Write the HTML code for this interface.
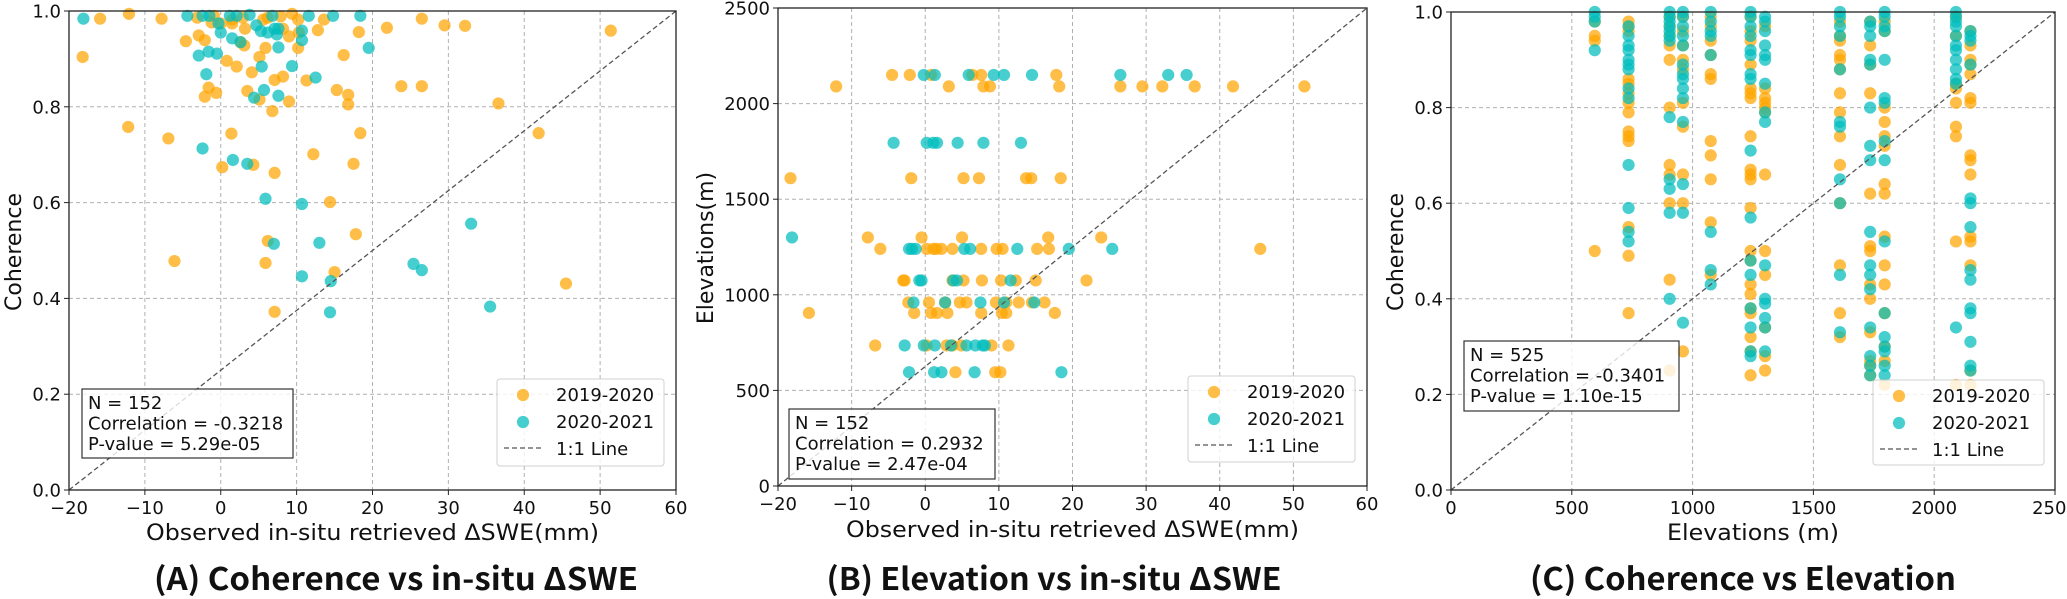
<!DOCTYPE html>
<html><head><meta charset="utf-8"><style>
html,body{margin:0;padding:0;background:#fff;width:2067px;height:599px;overflow:hidden}
svg text{font-family:"DejaVu Sans","Liberation Sans",sans-serif;fill:#111}
</style></head><body>
<svg id="fig" width="2067" height="599" xmlns="http://www.w3.org/2000/svg"></svg>
<script>
// Panel A: coherence vs dSWE
const aOrangeX=[-18.2,-15.9,-12.1,-7.8,-12.2,-6.9,-6.1,-4.6,-2.9,-2.1,-1.6,-2.1,-0.6,0.2,0.8,2.1,1.4,3.5,4.1,5.1,5.1,4.3,3.1,3.2,5.9,6.8,7.1,8.2,9.0,7.1,5.9,6.2,7.1,8.2,9.0,10.2,10.3,12.8,13.6,12.2,11.3,14.4,15.0,15.3,16.2,16.8,16.8,17.5,17.8,18.2,18.4,21.9,23.8,26.5,26.5,29.5,32.2,36.6,41.9,45.5,51.4,-3.1,-0.9,1.5,2.9,5.6,7.9,9.4,10.2,2.6,0,1.5,-1.2,6.2];
const aOrangeY=[0.904,0.984,0.994,0.984,0.758,0.734,0.478,0.937,0.949,0.939,0.840,0.821,0.829,0.674,0.896,0.884,0.744,0.833,0.872,0.904,0.815,0.679,0.928,0.963,0.923,0.791,0.856,0.863,0.811,0.662,0.474,0.520,0.372,0.963,0.947,0.923,0.955,0.960,0.982,0.701,0.855,0.601,0.455,0.835,0.908,0.825,0.805,0.681,0.534,0.956,0.745,0.965,0.843,0.984,0.843,0.970,0.969,0.807,0.745,0.431,0.959,0.986,0.99,0.982,0.986,0.982,0.989,0.994,0.982,0.935,0.974,0.974,0.976,0.986];
const aTealX=[-18.1,-4.4,-2.9,-1.6,-0.5,-1.9,-2.4,-2.4,-1.5,-0.3,0,1.2,2.1,3.8,1.5,2.6,4.7,5.3,6.2,7.1,7.4,6.8,7.6,4.4,5.7,5.4,7.6,7.6,9.4,10.7,10.7,11.6,12.5,14.8,18.4,19.5,1.6,3.5,5.9,7.0,10.7,10.7,13.0,14.5,14.4,25.4,26.5,33.0,35.5];
const aTealY=[0.984,0.99,0.907,0.915,0.911,0.868,0.713,0.99,0.99,0.974,0.955,0.99,0.99,0.992,0.943,0.935,0.97,0.958,0.955,0.963,0.951,0.99,0.963,0.819,0.835,0.884,0.924,0.823,0.885,0.959,0.939,0.99,0.861,0.99,0.99,0.923,0.689,0.681,0.608,0.514,0.597,0.446,0.516,0.436,0.371,0.472,0.459,0.556,0.383];
// Panel B: elevation vs dSWE
const bOrangeX=[-4.5,-2.1,0.8,6.4,7.6,17.8,-12.1,3.2,7.9,8.8,18.2,26.5,29.5,32.2,36.6,41.8,51.5,-18.3,-1.9,5.2,7.3,13.7,14.4,18.4,-7.8,-0.5,5.0,16.7,23.9,-6.1,0.2,1.1,1.5,2.2,3.7,7.6,9.7,10.5,15.2,16.8,45.5,-3.0,-2.8,3.7,5.2,7.7,10.3,12.3,15.0,21.9,-2.3,0.5,2.7,4.7,5.6,9.6,11.0,12.7,14.5,16.2,-15.8,-1.5,0.8,1.6,3.0,7.6,10.4,11.0,17.6,-6.8,0.2,2.9,3.7,4.9,9.0,11.3,4.1,9.5,10.2];
const bOrangeY=[2150,2150,2150,2150,2150,2150,2090,2090,2090,2090,2090,2090,2090,2090,2090,2090,2090,1610,1610,1610,1610,1610,1610,1610,1300,1300,1300,1300,1300,1240,1240,1240,1240,1240,1240,1240,1240,1240,1240,1240,1240,1075,1075,1075,1075,1075,1075,1075,1075,1075,960,960,960,960,960,960,960,960,960,960,905,905,905,905,905,905,905,905,905,735,735,735,735,735,735,735,595,595,595];
const bTealX=[-0.2,1.3,5.9,9.3,10.7,14.5,26.5,33.0,35.5,-4.3,0.2,1.1,1.6,4.4,7.9,13.0,-18.1,-2.2,-1.8,-1.3,5.3,6.1,12.5,19.5,25.4,-0.8,-0.5,3.8,4.3,11.6,-1.6,2.7,7.5,10.7,14.8,-2.8,-0.2,1.3,3.5,5.6,6.8,7.8,8.1,-2.2,1.2,2.2,6.7,18.5];
const bTealY=[2150,2150,2150,2150,2150,2150,2150,2150,2150,1795,1795,1795,1795,1795,1795,1795,1300,1240,1240,1240,1240,1240,1240,1240,1240,1075,1075,1075,1075,1075,960,960,960,960,960,735,735,735,735,735,735,735,735,595,595,595,595,595];
// Panel C: coherence vs elevation (per station column)
const cElev=[595,735,905,960,1075,1240,1300,1610,1735,1795,2090,2150];
const cOrange=[[0.98,0.95,0.94,0.50],[0.98,0.97,0.96,0.86,0.85,0.83,0.81,0.79,0.75,0.74,0.73,0.55,0.49,0.37],[0.99,0.97,0.95,0.93,0.90,0.80,0.68,0.66,0.60,0.44,0.25],[0.99,0.96,0.93,0.90,0.88,0.81,0.76,0.66,0.60,0.29],[0.99,0.97,0.94,0.91,0.87,0.86,0.73,0.70,0.65,0.56,0.45],[0.99,0.96,0.94,0.89,0.84,0.83,0.82,0.74,0.67,0.66,0.65,0.59,0.50,0.48,0.43,0.41,0.38,0.37,0.32,0.29,0.24],[0.97,0.84,0.82,0.81,0.80,0.79,0.66,0.50,0.45,0.34,0.28,0.25],[0.98,0.95,0.94,0.91,0.90,0.88,0.83,0.79,0.74,0.68,0.60,0.47,0.37,0.32],[0.98,0.93,0.89,0.83,0.62,0.51,0.50,0.43,0.40,0.33,0.27,0.26,0.24],[0.98,0.96,0.80,0.77,0.74,0.72,0.64,0.62,0.53,0.47,0.43,0.37,0.30,0.27,0.22],[0.99,0.95,0.85,0.84,0.81,0.76,0.74,0.52,0.22],[0.96,0.93,0.90,0.89,0.87,0.82,0.81,0.70,0.69,0.66,0.53,0.52,0.47,0.25,0.22]];
const cTeal=[[1.0,0.99,0.98,0.92],[0.97,0.95,0.93,0.92,0.90,0.89,0.88,0.84,0.82,0.68,0.59,0.54,0.52],[1.0,0.99,0.98,0.97,0.96,0.95,0.94,0.78,0.65,0.63,0.58,0.40],[1.0,0.99,0.97,0.95,0.93,0.89,0.87,0.86,0.84,0.82,0.77,0.64,0.58,0.35],[1.0,0.98,0.96,0.95,0.91,0.54,0.46,0.43],[1.0,0.99,0.97,0.95,0.92,0.91,0.87,0.86,0.71,0.57,0.48,0.45,0.38,0.34,0.29,0.28],[0.99,0.98,0.96,0.93,0.91,0.90,0.85,0.79,0.77,0.47,0.40,0.39,0.36,0.34,0.29],[1.0,0.99,0.97,0.95,0.88,0.77,0.76,0.65,0.60,0.45,0.33],[0.98,0.97,0.95,0.90,0.89,0.80,0.72,0.69,0.54,0.47,0.45,0.42,0.34,0.28,0.26,0.24],[1.0,0.99,0.97,0.96,0.90,0.82,0.81,0.73,0.69,0.52,0.37,0.32,0.30,0.29,0.26,0.24],[1.0,0.99,0.98,0.97,0.95,0.93,0.92,0.90,0.88,0.86,0.85,0.34],[0.96,0.95,0.94,0.89,0.61,0.60,0.55,0.46,0.44,0.38,0.37,0.31,0.26,0.25]];
const sweTicks=[-20,-10,0,10,20,30,40,50,60];
const cohTicks=[0,0.2,0.4,0.6,0.8,1.0];
const cohTickLabels=["0.0","0.2","0.4","0.6","0.8","1.0"];
const elevTicks=[0,500,1000,1500,2000,2500];
const legendLabels=["2019-2020","2020-2021","1:1 Line"];
const statsA=["N = 152","Correlation = -0.3218","P-value = 5.29e-05"];
const statsB=["N = 152","Correlation = 0.2932","P-value = 2.47e-04"];
const statsC=["N = 525","Correlation = -0.3401","P-value = 1.10e-15"];

const NS="http://www.w3.org/2000/svg";
const svg=document.getElementById('fig');
function mk(tag,attrs,parent,txt){const e=document.createElementNS(NS,tag);for(const k in attrs)e.setAttribute(k,attrs[k]);if(txt!==undefined)e.textContent=txt;(parent||svg).appendChild(e);return e;}
const ORANGE="#ffa500", TEAL="#00bdbd", R=6.1;

function panel(p){
  const g=mk('g',{});
  
  
  const X=v=>p.L+(v-p.xmin)/(p.xmax-p.xmin)*(p.R-p.L);
  const Y=v=>p.B-(v-p.ymin)/(p.ymax-p.ymin)*(p.B-p.T);
  p.xt.forEach((t,i)=>{
    if(i>0&&i<p.xt.length-1){const l=mk('line',{x1:X(t),x2:X(t),y1:p.T,y2:p.B,stroke:'#b0b0b0','stroke-width':1,'stroke-dasharray':'4,3'},g);
    }
    const tl=mk('text',{x:X(t),y:p.tickY,'font-size':18,'text-anchor':'middle'},g,(t<0?'\u2212'+(-t):String(t)));
    
    mk('line',{x1:X(t),x2:X(t),y1:p.B,y2:p.B+5,stroke:'#222','stroke-width':1},g);
  });
  p.yt.forEach((t,i)=>{
    if(i>0&&i<p.yt.length-1){const l=mk('line',{x1:p.L,x2:p.R,y1:Y(t),y2:Y(t),stroke:'#b0b0b0','stroke-width':1,'stroke-dasharray':'4,3'},g);
    }
    const tl=mk('text',{x:p.L-8,y:Y(t)+6.5,'font-size':18,'text-anchor':'end'},g,p.ytl[i]);
    
    mk('line',{x1:p.L-5,x2:p.L,y1:Y(t),y2:Y(t),stroke:'#222','stroke-width':1},g);
  });
  const drawPts=(xs,ys,col,nm)=>{for(let i=0;i<xs.length;i++){const c=mk('circle',{cx:X(xs[i]),cy:Y(ys[i]),r:R,fill:col,'fill-opacity':0.72},g);
    }};
  drawPts(p.ox,p.oy,ORANGE,'point-2019-2020');
  drawPts(p.tx,p.ty,TEAL,'point-2020-2021');
  const d=mk('line',{x1:p.L,y1:p.B,x2:p.R,y2:p.T,stroke:'#555','stroke-width':1.3,'stroke-dasharray':'5,3'},g);
  
  const f=mk('rect',{x:p.L,y:p.T,width:p.R-p.L,height:p.B-p.T,fill:'none',stroke:'#222','stroke-width':1.3},g);
  
  const sb=mk('g',{},g);
  mk('rect',{x:p.sb[0],y:p.sb[1],width:p.sb[2],height:p.sb[3],fill:'#fff','fill-opacity':0.8,stroke:'#333','stroke-width':1.2},sb);
  p.stats.forEach((s,i)=>mk('text',{x:p.sb[0]+6,y:p.sb[1]+20+i*20.5,'font-size':18},sb,s));
  const lg=mk('g',{},g);
  const [lx,ly,lw,lh]=p.lg;
  mk('rect',{x:lx,y:ly,width:lw,height:lh,rx:3,fill:'#fff','fill-opacity':0.8,stroke:'#d0d0d0','stroke-width':1},lg);
  const e1=mk('circle',{cx:lx+26,cy:ly+16,r:R,fill:ORANGE,'fill-opacity':0.72},lg);
  
  const e2=mk('circle',{cx:lx+26,cy:ly+43,r:R,fill:TEAL,'fill-opacity':0.72},lg);
  
  mk('line',{x1:lx+7,x2:lx+45,y1:ly+69,y2:ly+69,stroke:'#555','stroke-width':1.3,'stroke-dasharray':'5,3'},lg);
  legendLabels.forEach((s,i)=>mk('text',{x:lx+59,y:ly+22+i*27,'font-size':18},lg,s));
  const xl=mk('text',{x:(p.L+p.R)/2,y:p.xlY,'font-size':22,'text-anchor':'middle',textLength:p.xlW,lengthAdjust:'spacingAndGlyphs'},g,p.xlabel);
  
  const yl=mk('text',{x:0,y:0,'font-size':22,'text-anchor':'middle',transform:`translate(${p.ylX},${p.ylY}) rotate(-90)`},g,p.ylabel);
  
  const tt=mk('text',{x:p.tX,y:590,'font-size':31,'font-weight':'bold','text-anchor':'middle',textLength:p.tW,lengthAdjust:'spacingAndGlyphs',style:'font-family:"Noto Sans CJK SC","DejaVu Sans",sans-serif'},g,p.title);
  
}

panel({name:'panel-a-coherence-vs-swe',L:69,R:676,T:11,B:490,xmin:-20,xmax:60,ymin:0,ymax:1,xt:sweTicks,yt:cohTicks,ytl:cohTickLabels,tickY:514,
  ox:aOrangeX,oy:aOrangeY,tx:aTealX,ty:aTealY,sb:[82,389,211,69],stats:statsA,lg:[497,379,167,87],
  xlabel:'Observed in-situ retrieved \u0394SWE(mm)',xlW:453,xlY:540,ylabel:'Coherence',ylX:21,ylY:252,title:'(A) Coherence vs in-situ \u0394SWE',tX:396,tW:484});

panel({name:'panel-b-elevation-vs-swe',L:778,R:1367,T:8,B:486,xmin:-20,xmax:60,ymin:0,ymax:2500,xt:sweTicks,yt:elevTicks,ytl:elevTicks.map(String),tickY:510,
  ox:bOrangeX,oy:bOrangeY,tx:bTealX,ty:bTealY,sb:[789,409,206,70],stats:statsB,lg:[1188,376,167,86],
  xlabel:'Observed in-situ retrieved \u0394SWE(mm)',xlW:453,xlY:537,ylabel:'Elevations(m)',ylX:713,ylY:248,title:'(B) Elevation vs in-situ \u0394SWE',tX:1054,tW:455});

const cOX=[],cOY=[],cTX=[],cTY=[];
cElev.forEach((e,i)=>{cOrange[i].forEach(v=>{cOX.push(e);cOY.push(v);});cTeal[i].forEach(v=>{cTX.push(e);cTY.push(v);});});
panel({name:'panel-c-coherence-vs-elevation',L:1451,R:2055,T:12,B:490,xmin:0,xmax:2500,ymin:0,ymax:1,xt:elevTicks,yt:cohTicks,ytl:cohTickLabels,tickY:514,
  ox:cOX,oy:cOY,tx:cTX,ty:cTY,sb:[1464,341,215,70],stats:statsC,lg:[1873,380,171,85],
  xlabel:'Elevations (m)',xlW:172,xlY:540,ylabel:'Coherence',ylX:1403,ylY:252,title:'(C) Coherence vs Elevation',tX:1743,tW:426});
</script>
</body></html>
